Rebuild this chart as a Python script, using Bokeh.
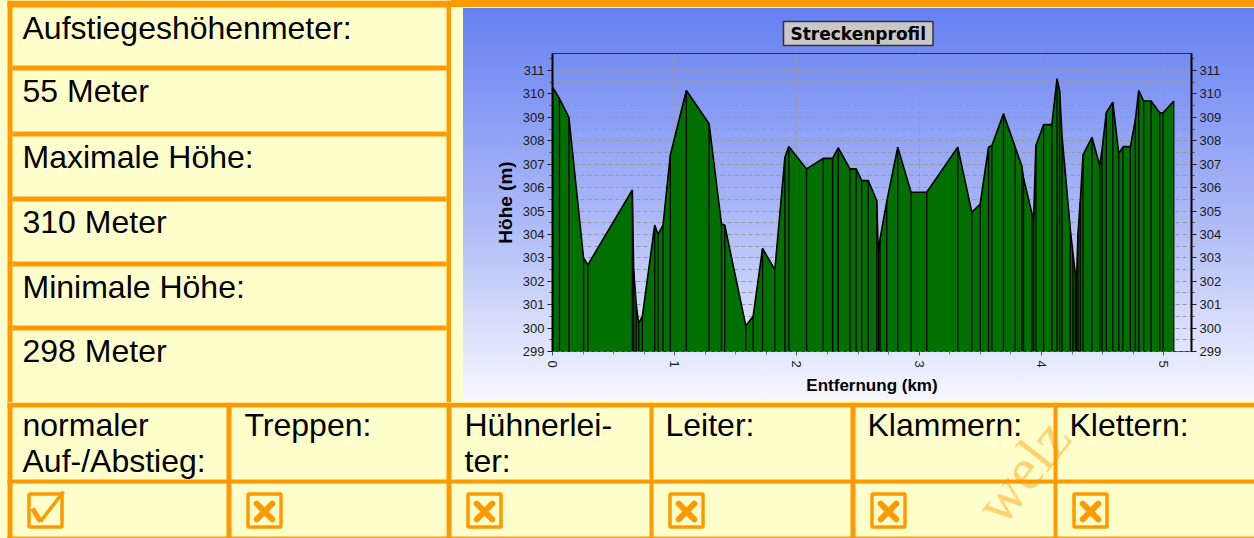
from bokeh.plotting import figure
from bokeh.models import Range1d, LinearAxis, FixedTicker, Spacer, GlobalInlineStyleSheet
from bokeh.layouts import row, column
from bokeh.core.properties import value
from bokeh.embed import file_html
from bokeh.resources import INLINE

# ---------------- data ----------------
dist_km = [0.000, 0.057, 0.134, 0.254, 0.289, 0.653, 0.664, 0.685, 0.705, 0.735,
           0.836, 0.863, 0.904, 0.964, 1.095, 1.281, 1.382, 1.409, 1.581, 1.641,
           1.718, 1.819, 1.901, 1.933, 2.078, 2.215, 2.291, 2.338, 2.433, 2.484,
           2.529, 2.583, 2.652, 2.665, 2.679, 2.734, 2.824, 2.933, 3.061, 3.315,
           3.430, 3.498, 3.567, 3.594, 3.689, 3.785, 3.840, 3.853, 3.922, 3.935,
           3.954, 4.017, 4.085, 4.127, 4.148, 4.168, 4.236, 4.257, 4.277, 4.285,
           4.298, 4.317, 4.340, 4.413, 4.476, 4.495, 4.530, 4.583, 4.632, 4.667,
           4.727, 4.768, 4.795, 4.836, 4.896, 4.967, 4.995, 5.082]
elev_m = [310.3, 309.8, 309.0, 303.0, 302.7, 305.9, 302.5, 301.0, 300.2, 300.5,
          304.4, 304.0, 304.4, 307.4, 310.15, 308.73, 304.45, 304.4, 300.1, 300.5,
          303.4, 302.5, 307.3, 307.76, 306.8, 307.25, 307.25, 307.7, 306.8, 306.8,
          306.3, 306.3, 305.45, 303.2, 303.8, 305.4, 307.73, 305.8, 305.8, 307.73,
          304.95, 305.3, 307.73, 307.8, 309.16, 307.73, 306.9, 306.4, 304.9, 304.6,
          307.8, 308.69, 308.69, 310.65, 310.15, 308.2, 304.2, 303.2, 302.3, 301.8,
          304.0, 305.4, 307.4, 308.15, 306.95, 307.6, 309.2, 309.65, 307.45, 307.75,
          307.75, 308.9, 310.15, 309.7, 309.7, 309.2, 309.2, 309.7]

y_ticks = list(range(299, 312))
y_minor = [299.5 + i for i in range(13)]
y_grid = [299 + 0.5 * i for i in range(25)]
x_ticks = [0, 1, 2, 3, 4, 5]
x_minor = [0.25 * i for i in range(21) if i % 4]

info_labels = ["Aufstiegeshöhenmeter:", "55 Meter", "Maximale Höhe:",
               "310 Meter", "Minimale Höhe:", "298 Meter"]
path_labels = [["normaler", "Auf-/Abstieg:"], ["Treppen:"], ["Hühnerlei-", "ter:"],
               ["Leiter:"], ["Klammern:"], ["Klettern:"]]
path_flags = [True, False, False, False, False, False]

# ---------------- style ----------------
ORANGE = "#FF9900"
YELLOW = "#FFFFCC"
FONT = "Liberation Sans"
CELL_FONT = "32px"
BASE_SHIFT = 12          # alphabetic-baseline correction for the 32px cell font
TOP_BAND = "linear-gradient(to bottom, #FF9900 0px, #FF9900 7px, #FFFFCC 7px, #FFFFCC 100%)"

# table geometry (page pixels)
row_tops = [7, 70, 136, 201, 266, 330]
row_sep = [(65, 70), (131, 136), (196, 201), (261, 266), (325, 330)]
col_lefts = [12, 231, 451, 653, 855, 1057]
col_text_x = [22, 244, 464, 665, 867, 1069]
col_seps = [(7, 12), (226, 231), (446, 451), (649, 653), (850, 855), (1053, 1057)]

# ---------------- left info column ----------------
left = figure(width=451, height=402, x_range=Range1d(0, 451), y_range=Range1d(402, 0),
              x_axis_type=None, y_axis_type=None, output_backend="svg",
              toolbar_location=None, min_border=0, border_fill_color=YELLOW,
              background_fill_color=YELLOW, outline_line_color=None)
left.quad(left=[7, 7, 446] + [12] * len(row_sep),
          right=[451, 12, 451] + [446] * len(row_sep),
          top=[0, 0, 0] + [a for a, b in row_sep],
          bottom=[7, 402, 402] + [b for a, b in row_sep],
          fill_color=ORANGE, line_color=None)
left.text(x=[22] * len(info_labels), y=[t + 32 - BASE_SHIFT for t in row_tops], text=info_labels,
          text_font=value(FONT), text_font_size=CELL_FONT, text_baseline="alphabetic",
          text_color="black")

# ---------------- chart ----------------
chart = figure(width=791, height=392, x_range=Range1d(0, 5.227), y_range=Range1d(299, 311.73),
               output_backend="svg", toolbar_location=None,
               min_border_left=89, min_border_right=63, min_border_top=45, min_border_bottom=49,
               border_fill_color=None, background_fill_color=None,
               outline_line_color="#303030", outline_line_width=1,
               x_axis_label="Entfernung (km)", y_axis_label="Höhe (m)",
               title="Streckenprofil",
               styles={"background": "linear-gradient(to bottom, #6680F2 0%, #AEBBF7 55%, #F6F7FE 100%)"})

chart.xgrid.ticker = FixedTicker(ticks=x_ticks)
chart.ygrid.ticker = FixedTicker(ticks=y_grid)
for g in (chart.xgrid, chart.ygrid):
    g.grid_line_color = "#999999"
    g.grid_line_dash = "4 3"
    g.grid_line_width = 1

chart.varea(x=dist_km, y1=299, y2=elev_m, fill_color="#007000")
chart.segment(x0=dist_km, y0=299, x1=dist_km, y1=elev_m, line_color="black", line_width=1.3)
chart.line(dist_km, elev_m, line_color="black", line_width=1.6)

right_axis = LinearAxis()
chart.add_layout(right_axis, "right")

for ax in chart.yaxis:
    ax.ticker = FixedTicker(ticks=y_ticks, minor_ticks=y_minor)
    ax.axis_line_color = "black"
    ax.axis_line_width = 2
    ax.major_tick_line_color = "#202020"
    ax.minor_tick_line_color = "#404040"
    ax.major_tick_out = 5
    ax.major_tick_in = 0
    ax.minor_tick_out = 3
    ax.minor_tick_in = 0
    ax.major_label_standoff = 3
    ax.major_label_text_font = FONT
    ax.major_label_text_font_size = "13px"
    ax.major_label_text_color = "#1a1a1a"

chart.yaxis[0].axis_label_text_font = FONT
chart.yaxis[0].axis_label_text_font_style = "bold"
chart.yaxis[0].axis_label_text_font_size = "19px"
chart.yaxis[0].axis_label_text_color = "black"
chart.yaxis[0].axis_label_standoff = 4

xa = chart.xaxis[0]
xa.ticker = FixedTicker(ticks=x_ticks, minor_ticks=x_minor)
xa.axis_line_color = "#707070"
xa.axis_line_dash = "3 3"
xa.major_tick_line_color = "#505050"
xa.minor_tick_line_color = "#707070"
xa.major_tick_out = 4
xa.major_tick_in = 2
xa.minor_tick_out = 3
xa.minor_tick_in = 0
xa.major_label_orientation = "vertical"
xa.major_label_standoff = 5
xa.major_label_text_font = FONT
xa.major_label_text_font_size = "13px"
xa.major_label_text_color = "#1a1a1a"
xa.axis_label_text_font = FONT
xa.axis_label_text_font_style = "bold"
xa.axis_label_text_font_size = "17px"
xa.axis_label_text_color = "black"
xa.axis_label_standoff = 5

t = chart.title
t.align = "left"
t.offset = 231
t.standoff = 16
t.text_font = "DejaVu Sans"
t.text_font_style = "bold"
t.text_font_size = "17px"
t.text_color = "black"
t.background_fill_color = "#C8C8C8"
t.border_line_color = "#333333"
t.border_line_width = 1.5
t.padding = (7, 2)

# ---------------- bottom path-type table ----------------
bottom = figure(width=1254, height=136, x_range=Range1d(0, 1254), y_range=Range1d(538, 402),
                x_axis_type=None, y_axis_type=None, output_backend="svg",
                toolbar_location=None, min_border=0, border_fill_color=YELLOW,
                background_fill_color=YELLOW, outline_line_color=None)

# faint watermark (kept fully inside the table area)
bottom.text(x=[1022], y=[471], text=["welz"], angle=0.9, text_font=value("Liberation Serif"),
            text_font_size="60px", text_color=ORANGE, text_alpha=0.45,
            text_align="center", text_baseline="middle")

bottom.quad(left=[a for a, b in col_seps] + [7, 7, 7],
            right=[b for a, b in col_seps] + [1254, 1254, 1254],
            top=[402] * len(col_seps) + [402, 479, 536],
            bottom=[538] * len(col_seps) + [407, 483, 538],
            fill_color=ORANGE, line_color=None)

lx, ly, lt = [], [], []
for tx, lines in zip(col_text_x, path_labels):
    for k, s in enumerate(lines):
        lx.append(tx)
        ly.append(436 + 36 * k - BASE_SHIFT)
        lt.append(s)
bottom.text(x=lx, y=ly, text=lt, text_font=value(FONT), text_font_size=CELL_FONT,
            text_baseline="alphabetic", text_color="black")

box_cx = [cl + 33 for cl in col_lefts]
box_cy = 510
bottom.rect(x=box_cx, y=box_cy, width=33, height=33, fill_color=None,
            line_color=ORANGE, line_width=3.5)
x_cx = [c for c, f in zip(box_cx, path_flags) if not f]
bottom.scatter(x=x_cx, y=[box_cy + 1] * len(x_cx), marker="x", size=22, line_width=6,
               line_color=ORANGE, line_cap="round")
chk_cx = [c for c, f in zip(box_cx, path_flags) if f]
bottom.multi_line(xs=[[c - 13, c - 5] for c in chk_cx] + [[c - 5, c + 18] for c in chk_cx],
                  ys=[[box_cy - 2, box_cy + 11]] * len(chk_cx) + [[box_cy + 11, box_cy - 19]] * len(chk_cx),
                  line_color=ORANGE, line_width=[5] * len(chk_cx) + [3.5] * len(chk_cx))

# ---------------- layout ----------------
chart_col = column(Spacer(width=791, height=8, styles={"background": TOP_BAND}),
                   chart,
                   Spacer(width=791, height=2, styles={"background-color": YELLOW}),
                   spacing=0)
top_row = row(left, Spacer(width=12, height=402, styles={"background": TOP_BAND}),
              chart_col, spacing=0)
page = column(top_row, bottom, spacing=0)
page.stylesheets = [GlobalInlineStyleSheet(css="body { background: #FFFFCC; }")]

open("out.html", "w").write(file_html(page, INLINE))
